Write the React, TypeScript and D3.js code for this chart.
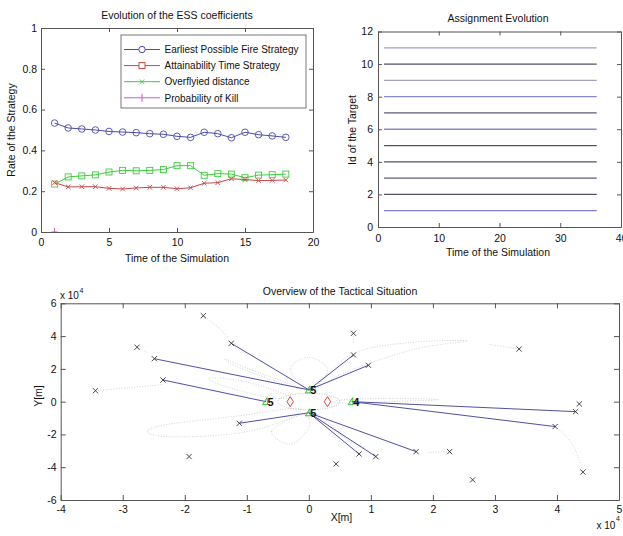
import React, { useEffect, useRef } from 'react'
import * as d3 from 'd3'

// ---------- Evolution of the ESS coefficients ----------
const simSteps = [1, 2, 3, 4, 5, 6, 7, 8, 9, 10, 11, 12, 13, 14, 15, 16, 17, 18]
const earliestFire = [0.534, 0.51, 0.505, 0.5, 0.493, 0.49, 0.487, 0.482, 0.479, 0.469, 0.464, 0.489, 0.482, 0.462, 0.489, 0.477, 0.471, 0.464]
const greenSeries = [0.235, 0.27, 0.275, 0.28, 0.294, 0.302, 0.3, 0.302, 0.306, 0.325, 0.325, 0.278, 0.286, 0.284, 0.266, 0.279, 0.281, 0.284]
const redSeries = [0.242, 0.221, 0.222, 0.222, 0.214, 0.211, 0.216, 0.219, 0.219, 0.212, 0.217, 0.239, 0.242, 0.261, 0.257, 0.252, 0.253, 0.255]
const killSteps = [1]
const killProb = [0]
const legendNames = ['Earliest Possible Fire Strategy', 'Attainability Time Strategy', 'Overflyied distance', 'Probability of Kill']
const essXTicks = [0, 5, 10, 15, 20]
const essYTicks = [0, 0.2, 0.4, 0.6, 0.8, 1]

// ---------- Assignment Evolution ----------
const targetIds = [1, 2, 3, 4, 5, 6, 7, 8, 9, 10, 11]
const assignFrom = 1
const assignTo = 36
const targetLineColors = ['#7c7cd8', '#50506c', '#5c5c7a', '#50506c', '#50506c', '#8888d0', '#5a5a78', '#8888d0', '#a0a0c8', '#50506c', '#a0a0c8']
const assignXTicks = [0, 10, 20, 30, 40]
const assignYTicks = [0, 2, 4, 6, 8, 10, 12]

// ---------- Overview of the Tactical Situation (x 1e4 m) ----------
const targets: [number, number][] = [
  [-1.70, 5.24], [-2.77, 3.32], [-2.49, 2.62], [-2.35, 1.32], [-3.44, 0.67], [-1.25, 3.56],
  [-1.12, -1.32], [-1.93, -3.35], [0.72, 4.17], [0.72, 2.85], [0.96, 2.22], [3.39, 3.21],
  [4.36, -0.14], [4.30, -0.61], [3.97, -1.52], [1.73, -3.05], [2.27, -3.05], [0.81, -3.19],
  [1.08, -3.35], [0.44, -3.80], [2.64, -4.77], [4.42, -4.30],
]
const launchers: [number, number][] = [[0, 0.72], [-0.69, 0], [0, -0.68], [0.69, 0]]
const launcherLabels = ['5', '5', '5', '4']
const defended: [number, number][] = [[-0.3, 0], [0.3, 0]]
// [launcher index, target index]
const assignments: [number, number][] = [
  [0, 5], [0, 2], [0, 9], [0, 10], [1, 3], [2, 6], [2, 17], [2, 18], [2, 15], [3, 13], [3, 14],
]
const coverRadius = 0.5
const petals: [number, number][][] = [
  [[-0.2, -0.4], [-1.2, -0.9], [-2.3, -1.4], [-2.6, -1.85], [-2.2, -2.15], [-1.1, -1.9], [-0.3, -1.0]],
  [[-0.3, 0.3], [-1.0, 1.2], [-1.6, 1.45], [-1.4, 1.0], [-0.7, 0.3]],
  [[-0.1, 0.8], [-0.9, 1.9], [-1.35, 2.6], [-1.2, 2.2], [-0.5, 1.2]],
  [[-0.05, 0.8], [-0.3, 2.0], [0.0, 2.7], [0.3, 2.0], [0.1, 0.8]],
  [[0.1, 0.8], [0.7, 2.9], [1.6, 3.6], [2.55, 3.7], [1.7, 3.2], [0.6, 1.8]],
  [[0.5, 0.1], [1.3, 0.2], [2.1, 0.12], [1.3, 0.0], [0.5, -0.1]],
  [[0.1, -0.8], [0.5, -2.0], [0.9, -2.8], [0.6, -2.3], [0.3, -1.2]],
  [[-0.1, -0.8], [-0.6, -1.8], [-0.3, -2.6], [0.0, -1.6]],
]
const traces: [number, number][][] = [
  [[-3.44, 0.67], [-2.9, 0.85], [-2.35, 1.05]],
  [[-1.70, 5.24], [-1.45, 4.5], [-1.3, 3.9]],
  [[-2.77, 3.32], [-2.6, 3.0]],
  [[3.97, -1.52], [4.25, -2.6], [4.42, -4.3]],
  [[3.39, 3.21], [2.9, 3.5]],
  [[2.27, -3.05], [1.9, -3.1]],
  [[0.72, 4.17], [0.72, 3.6]],
]
const tacXTicks = [-4, -3, -2, -1, 0, 1, 2, 3, 4, 5]
const tacYTicks = [-6, -4, -2, 0, 2, 4, 6]

const FONT = 'Liberation Sans, Arial, Helvetica, sans-serif'

function frame(svg: any, x: any, y: any, xTicks: number[], yTicks: number[], tick: number, padX: number, padY: number) {
  const [x0, x1] = x.range()
  const [y0, y1] = y.range()
  const blank = () => ''
  const num = (d: any) => String(d)
  const gs = [
    svg.append('g').attr('transform', `translate(0,${y0})`)
      .call(d3.axisBottom(x).tickValues(xTicks).tickFormat(num).tickSizeInner(-tick).tickSizeOuter(0).tickPadding(padX)),
    svg.append('g').attr('transform', `translate(0,${y1})`)
      .call(d3.axisTop(x).tickValues(xTicks).tickSizeInner(-tick).tickSizeOuter(0).tickFormat(blank)),
    svg.append('g').attr('transform', `translate(${x0},0)`)
      .call(d3.axisLeft(y).tickValues(yTicks).tickFormat(num).tickSizeInner(-tick).tickSizeOuter(0).tickPadding(padY)),
    svg.append('g').attr('transform', `translate(${x1},0)`)
      .call(d3.axisRight(y).tickValues(yTicks).tickSizeInner(-tick).tickSizeOuter(0).tickFormat(blank)),
  ]
  gs.forEach(g => {
    g.select('.domain').attr('stroke', '#555')
    g.selectAll('.tick line').attr('stroke', '#555')
    g.selectAll('.tick text').attr('fill', '#111').attr('font-size', 10.5).attr('font-family', FONT)
  })
}

function label(svg: any, x: number, y: number, text: string, rotate = 0, anchor = 'middle', size = 10.5) {
  return svg.append('text')
    .attr('transform', `translate(${x},${y}) rotate(${rotate})`)
    .attr('text-anchor', anchor)
    .attr('font-size', size)
    .attr('font-family', FONT)
    .attr('fill', '#111')
    .text(text)
}

function crossAt(g: any, cx: number, cy: number, s: number, color: string) {
  g.append('path').attr('d', `M${cx - s},${cy - s}L${cx + s},${cy + s}M${cx - s},${cy + s}L${cx + s},${cy - s}`)
    .attr('stroke', color).attr('stroke-width', 0.9).attr('fill', 'none')
}

export default function App() {
  const ref = useRef<SVGSVGElement>(null)

  useEffect(() => {
    const svg = d3.select(ref.current)
    svg.selectAll('*').remove()

    // ===== ESS coefficients =====
    const ex = d3.scaleLinear().domain([0, 20]).range([41, 313])
    const ey = d3.scaleLinear().domain([0, 1]).range([232, 28])
    svg.append('clipPath').attr('id', 'essClip').append('rect')
      .attr('x', 41).attr('y', 28).attr('width', 272).attr('height', 204)
    const ess = svg.append('g').attr('clip-path', 'url(#essClip)')
    const line = d3.line<number>().x((d, i) => ex(simSteps[i])).y(d => ey(d))

    const blue = '#4b4bab', red = '#c44848', green = '#3ccc3c', magenta = '#d055d0'
    ess.append('path').datum(earliestFire).attr('d', line).attr('fill', 'none').attr('stroke', blue).attr('stroke-width', 1)
    ess.append('path').datum(greenSeries).attr('d', line).attr('fill', 'none').attr('stroke', green).attr('stroke-width', 1)
    ess.append('path').datum(redSeries).attr('d', line).attr('fill', 'none').attr('stroke', red).attr('stroke-width', 1)

    earliestFire.forEach((v, i) => {
      ess.append('circle').attr('cx', ex(simSteps[i])).attr('cy', ey(v)).attr('r', 3.3)
        .attr('fill', 'none').attr('stroke', blue).attr('stroke-width', 0.9)
    })
    greenSeries.forEach((v, i) => {
      ess.append('rect').attr('x', ex(simSteps[i]) - 3).attr('y', ey(v) - 3).attr('width', 6).attr('height', 6)
        .attr('fill', 'none').attr('stroke', i === 0 ? '#a8a040' : green).attr('stroke-width', 0.9)
    })
    redSeries.forEach((v, i) => crossAt(ess, ex(simSteps[i]), ey(v), 2.3, red))
    killProb.forEach((v, i) => {
      const cx = ex(killSteps[i]), cy = ey(v)
      ess.append('path').attr('d', `M${cx - 3},${cy}L${cx + 3},${cy}M${cx},${cy - 4}L${cx},${cy + 4}`)
        .attr('stroke', magenta).attr('stroke-width', 1)
    })

    frame(svg, ex, ey, essXTicks, essYTicks, 4, 7, 4)
    label(svg, 177, 19, 'Evolution of the ESS coefficients')
    label(svg, 177, 262, 'Time of the Simulation')
    label(svg, 15, 130, 'Rate of the Strategy', -90)

    // legend
    const lg = svg.append('g')
    lg.append('rect').attr('x', 121).attr('y', 35).attr('width', 185).attr('height', 73)
      .attr('fill', '#fff').attr('stroke', '#555').attr('stroke-width', 0.8)
    const legendColors = [blue, red, green, magenta]
    legendNames.forEach((name, i) => {
      const cy = 49.5 + i * 16.1
      lg.append('line').attr('x1', 124).attr('x2', 160).attr('y1', cy).attr('y2', cy)
        .attr('stroke', legendColors[i]).attr('stroke-width', 1)
      if (i === 0) lg.append('circle').attr('cx', 142).attr('cy', cy).attr('r', 3.2).attr('fill', '#fff').attr('stroke', blue)
      if (i === 1) lg.append('rect').attr('x', 139).attr('y', cy - 3).attr('width', 6).attr('height', 6).attr('fill', '#fff').attr('stroke', red)
      if (i === 2) crossAt(lg, 142, cy, 2.2, green)
      if (i === 3) lg.append('line').attr('x1', 142).attr('x2', 142).attr('y1', cy - 4).attr('y2', cy + 4).attr('stroke', magenta)
      label(lg, 164.5, cy + 3.7, name, 0, 'start', 10)
    })

    // ===== Assignment Evolution =====
    const ax = d3.scaleLinear().domain([0, 40]).range([378, 621])
    const ay = d3.scaleLinear().domain([0, 12]).range([227, 31.5])
    targetIds.forEach((id, i) => {
      svg.append('line').attr('x1', ax(assignFrom)).attr('x2', ax(assignTo))
        .attr('y1', ay(id)).attr('y2', ay(id))
        .attr('stroke', targetLineColors[i]).attr('stroke-width', 1.3)
    })
    frame(svg, ax, ay, assignXTicks, assignYTicks, 4, 8, 5)
    label(svg, 498, 22, 'Assignment Evolution')
    label(svg, 498, 256, 'Time of the Simulation')
    label(svg, 356, 130, 'Id of the Target', -90)

    // ===== Tactical Situation =====
    const tx = d3.scaleLinear().domain([-4, 5]).range([60.7, 619])
    const ty = d3.scaleLinear().domain([-6, 6]).range([500, 303.3])
    const tac = svg.append('g')
    const closed = d3.line<[number, number]>().x(d => tx(d[0])).y(d => ty(d[1])).curve(d3.curveCardinalClosed)
    const open = d3.line<[number, number]>().x(d => tx(d[0])).y(d => ty(d[1])).curve(d3.curveCardinal)
    petals.forEach(p => {
      tac.append('path').attr('d', closed(p)).attr('fill', 'none')
        .attr('stroke', '#c8c8c8').attr('stroke-width', 0.8).attr('stroke-dasharray', '1,1.6')
    })
    traces.forEach(p => {
      tac.append('path').attr('d', open(p)).attr('fill', 'none')
        .attr('stroke', '#c8c8c8').attr('stroke-width', 0.8).attr('stroke-dasharray', '1,1.6')
    })
    tac.append('ellipse').attr('cx', tx(0)).attr('cy', ty(0))
      .attr('rx', tx(coverRadius) - tx(0)).attr('ry', ty(0) - ty(coverRadius))
      .attr('fill', 'none').attr('stroke', '#b0b0b0').attr('stroke-width', 0.8).attr('stroke-dasharray', '1,1.4')

    assignments.forEach(([li, ti]) => {
      tac.append('line')
        .attr('x1', tx(launchers[li][0])).attr('y1', ty(launchers[li][1]))
        .attr('x2', tx(targets[ti][0])).attr('y2', ty(targets[ti][1]))
        .attr('stroke', '#3c3c9c').attr('stroke-width', 0.9)
    })
    targets.forEach(([x, y]) => crossAt(tac, tx(x), ty(y), 2.6, '#333'))
    defended.forEach(([x, y]) => {
      const cx = tx(x), cy = ty(y)
      tac.append('path').attr('d', `M${cx},${cy - 5}L${cx + 3.2},${cy}L${cx},${cy + 5}L${cx - 3.2},${cy}Z`)
        .attr('fill', 'none').attr('stroke', '#d03030').attr('stroke-width', 0.9)
    })
    launchers.forEach(([x, y], i) => {
      const cx = tx(x), cy = ty(y)
      tac.append('path').attr('d', `M${cx - 3.5},${cy + 3}L${cx + 1},${cy - 4}L${cx + 1.5},${cy + 3}Z`)
        .attr('fill', 'none').attr('stroke', '#30c030').attr('stroke-width', 1)
      tac.append('text').attr('x', cx + 1.5).attr('y', cy + 4).attr('font-size', 11).attr('font-weight', 'bold')
        .attr('font-family', FONT).attr('fill', '#111').text(launcherLabels[i])
    })

    frame(svg, tx, ty, tacXTicks, tacYTicks, 5, 6, 4)
    label(svg, 340, 294.5, 'Overview of the Tactical Situation')
    label(svg, 341.5, 521, 'X[m]')
    label(svg, 42, 396, 'Y[m]', -90)
    label(svg, 60, 299, 'x 10', 0, 'start', 10)
    label(svg, 79.5, 292.5, '4', 0, 'start', 7)
    label(svg, 596.5, 528.5, 'x 10', 0, 'start', 10)
    label(svg, 616, 521, '4', 0, 'start', 7)
  }, [])

  return (
    <svg ref={ref} width={623} height={536}
      style={{ position: 'absolute', left: 0, top: 0, background: '#fff' }} />
  )
}
